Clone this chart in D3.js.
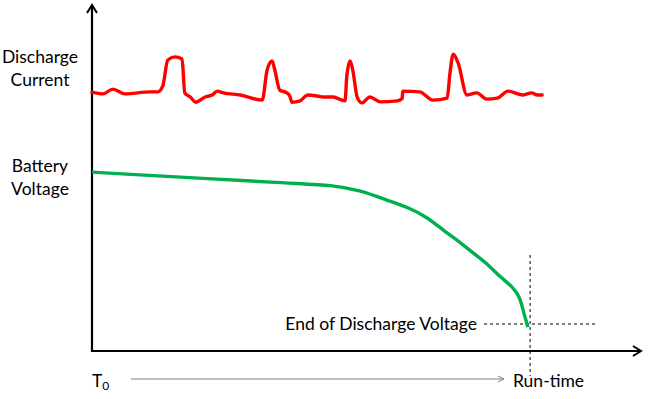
<!DOCTYPE html>
<html lang="en">
  <head>
    <meta charset="UTF-8" />
    <script src="https://d3js.org/d3.v7.min.js"></script>
    <title>Battery discharge</title>
    <style>
      body { margin: 0; background: #fff; }
      text { font-family: Lato, "Open Sans", sans-serif; fill: #000; }
    </style>
  </head>
  <body>
    <svg id="chart" width="650" height="399"></svg>
  </body>
  <script>
    // time (arbitrary units, run-time ~ 80) and discharge current (arbitrary units)
    var currentT = [0, 2, 3.8, 6, 10.6, 12, 12.9, 13.8, 15.1, 16.4, 16.9, 17.9, 18.9, 20.6, 21.9, 22.8, 23.9, 27, 31,
      31.9, 32.8, 33.3, 34.2, 35.5, 36.1, 36.4, 37.9, 39.3, 41, 42.1, 43.9, 46.1, 46.4, 47, 47.5, 48.3, 49.2, 50.6,
      52.5, 55.6, 56.5, 56.6, 59.7, 62.1, 64.7, 65.2, 65.8, 66.7, 68.3, 70.1, 71.9, 73.8, 75.8, 78.5, 80.1, 81.1, 82];
    var currentV = [74.8, 74.3, 75.7, 74.3, 74.9, 74.9, 76.6, 84.1, 85, 84.4, 74.6, 73.4, 71.9, 73.4, 74, 75.1, 74.6, 74, 72.5,
      81.2, 83.8, 81.2, 75.4, 74.6, 73.4, 71.9, 72.3, 74, 73.7, 73.4, 73.4, 72.3, 79.2, 83.8, 81.2, 73.4, 71.7, 73.4,
      72, 72.3, 73, 75.1, 74.9, 72.5, 73.1, 80.3, 85.8, 83.2, 74, 74.6, 72.8, 73.1, 75.1, 74, 74.6, 74, 74];

    // battery voltage
    var voltageT = [0, 37.9, 43.4, 48.8, 53.7, 57.9, 61, 63.9, 67, 69.4, 71.9, 74.3, 76.7, 78, 78.5, 79.2, 79.4];
    var voltageV = [51.7, 48.3, 48, 46.5, 43.6, 41.3, 38.7, 35, 31.5, 28.3, 25.4, 21.4, 18.5, 15.3, 11.8, 8, 6.9];

    var runTime = 79.8;
    var endVoltage = 7.8;

    var svg = d3.select("#chart");

    var x = d3.scaleLinear().domain([0, 100]).range([92, 641]);
    var y = d3.scaleLinear().domain([0, 100]).range([351, 5]);

    // arrow heads
    var defs = svg.append("defs");
    defs.append("marker")
      .attr("id", "axisArrow")
      .attr("viewBox", "0 0 12 12")
      .attr("refX", 10).attr("refY", 6)
      .attr("markerWidth", 12).attr("markerHeight", 12)
      .attr("markerUnits", "userSpaceOnUse")
      .attr("orient", "auto")
      .append("path")
      .attr("d", "M2,1 L10,6 L2,11")
      .attr("fill", "none")
      .attr("stroke", "#000")
      .attr("stroke-width", 2);
    defs.append("marker")
      .attr("id", "grayArrow")
      .attr("viewBox", "0 0 10 10")
      .attr("refX", 9).attr("refY", 5)
      .attr("markerWidth", 10).attr("markerHeight", 10)
      .attr("markerUnits", "userSpaceOnUse")
      .attr("orient", "auto")
      .append("path")
      .attr("d", "M3,2 L9,5 L3,8")
      .attr("fill", "none")
      .attr("stroke", "#808080")
      .attr("stroke-width", 1);

    // guide lines
    svg.append("line")
      .attr("x1", x(runTime)).attr("x2", x(runTime))
      .attr("y1", 255).attr("y2", 376)
      .attr("stroke", "#000").attr("stroke-width", 1)
      .attr("stroke-dasharray", "3,3");
    svg.append("line")
      .attr("x1", 484).attr("x2", 597)
      .attr("y1", y(endVoltage)).attr("y2", y(endVoltage))
      .attr("stroke", "#000").attr("stroke-width", 1)
      .attr("stroke-dasharray", "3,3");

    // axes
    svg.append("line")
      .attr("x1", x(0)).attr("y1", y(0) + 1)
      .attr("x2", x(0)).attr("y2", y(100))
      .attr("stroke", "#000").attr("stroke-width", 2.2)
      .attr("marker-end", "url(#axisArrow)");
    svg.append("line")
      .attr("x1", x(0) - 1).attr("y1", y(0))
      .attr("x2", x(100)).attr("y2", y(0))
      .attr("stroke", "#000").attr("stroke-width", 2.2)
      .attr("marker-end", "url(#axisArrow)");

    var line = d3.line()
      .x(function (d) { return x(d[0]); })
      .y(function (d) { return y(d[1]); })
      .curve(d3.curveMonotoneX);

    svg.append("path")
      .datum(d3.zip(currentT, currentV))
      .attr("d", line)
      .attr("fill", "none")
      .attr("stroke", "#ff0000")
      .attr("stroke-width", 3.4)
      .attr("stroke-linejoin", "round")
      .attr("stroke-linecap", "round");

    svg.append("path")
      .datum(d3.zip(voltageT, voltageV))
      .attr("d", line.curve(d3.curveBasis))
      .attr("fill", "none")
      .attr("stroke", "#00b050")
      .attr("stroke-width", 3.4)
      .attr("stroke-linejoin", "round");

    // labels
    var labels = [
      { text: "Discharge", y: 63 },
      { text: "Current", y: 86 },
      { text: "Battery", y: 172 },
      { text: "Voltage", y: 195 }
    ];
    svg.selectAll(".lbl")
      .data(labels)
      .enter()
      .append("text")
      .attr("class", "lbl")
      .attr("x", 40)
      .attr("y", function (d) { return d.y; })
      .attr("text-anchor", "middle")
      .style("font-size", "17.5px")
      .text(function (d) { return d.text; });

    svg.append("text")
      .attr("x", 477)
      .attr("y", 330)
      .attr("text-anchor", "end")
      .style("font-size", "17.5px")
      .text("End of Discharge Voltage");

    // time arrow
    var t0 = svg.append("text")
      .attr("x", 92)
      .attr("y", 387)
      .style("font-size", "17.5px");
    t0.append("tspan").text("T");
    t0.append("tspan").attr("dy", 3).style("font-size", "12px").text("0");

    svg.append("line")
      .attr("x1", 131).attr("x2", 504)
      .attr("y1", 379).attr("y2", 379)
      .attr("stroke", "#808080").attr("stroke-width", 1)
      .attr("marker-end", "url(#grayArrow)");

    svg.append("text")
      .attr("x", 513)
      .attr("y", 387)
      .style("font-size", "17.5px")
      .text("Run-time");
  </script>
</html>
